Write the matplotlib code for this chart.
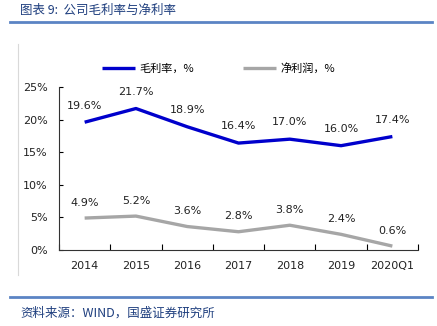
import numpy as np
import matplotlib.pyplot as plt
from matplotlib.lines import Line2D

plt.rcParams['font.family'] = ['Noto Sans CJK SC', 'DejaVu Sans']

years = ['2014', '2015', '2016', '2017', '2018', '2019', '2020Q1']
gross_margin = [19.6, 21.7, 18.9, 16.4, 17.0, 16.0, 17.4]
net_margin = [4.9, 5.2, 3.6, 2.8, 3.8, 2.4, 0.6]
yticks = [0, 5, 10, 15, 20, 25]

blue = '#0000CC'
grey = '#A6A6A6'
frame = '#5B84C4'
W, H = 437, 326

fig = plt.figure(figsize=(W / 100, H / 100), dpi=100)

# header / footer rules
fig.add_artist(Line2D([10 / W, 432 / W], [1 - 22 / H, 1 - 22 / H], color=frame, lw=2))
fig.add_artist(Line2D([10 / W, 432 / W], [1 - 297 / H, 1 - 297 / H], color=frame, lw=2))
fig.add_artist(Line2D([18 / W, 18 / W], [1 - 44 / H, 1 - 275 / H], color='#D9D9D9', lw=0.8))

fig.text(20 / W, 1 - 10 / H, '图表 9:  公司毛利率与净利率', fontsize=9, style='italic',
         color='#1F3F7F', va='center', ha='left')
fig.text(20 / W, 1 - 313 / H, '资料来源：WIND，国盛证券研究所', fontsize=9, style='italic',
         color='#1F3F7F', va='center', ha='left')

ax = fig.add_axes([59 / W, 1 - 250 / H, 359 / W, 163 / H])
x = np.arange(len(years))
ax.plot(x, gross_margin, color=blue, lw=2.4, solid_capstyle='butt', label='毛利率，%')
ax.plot(x, net_margin, color=grey, lw=2.4, solid_capstyle='butt', label='净利润，%')

for xi, v in zip(x, gross_margin):
    ax.annotate(f'{v:.1f}%', (xi, v), xytext=(0, 12), textcoords='offset points',
                ha='center', va='center', fontsize=8, family='DejaVu Sans', color='#222222')
for xi, v in zip(x, net_margin):
    ax.annotate(f'{v:.1f}%', (xi, v), xytext=(0, 11), textcoords='offset points',
                ha='center', va='center', fontsize=8, family='DejaVu Sans', color='#222222')

ax.set_xlim(-0.5, len(years) - 0.5)
ax.set_ylim(0, 25)
ax.set_yticks(yticks)
ax.set_yticklabels([f'{t}%' for t in yticks], family='DejaVu Sans', fontsize=8, color='#222222')
ax.set_xticks(x)
ax.set_xticklabels(years, family='DejaVu Sans', fontsize=8, color='#222222')
ax.set_xticks(np.arange(len(years) + 1) - 0.5, minor=True)
ax.tick_params(axis='x', which='major', length=0, pad=8)
ax.tick_params(axis='x', which='minor', direction='in', length=4, width=0.8)
ax.tick_params(axis='y', direction='in', length=3, width=0.8, pad=8)
for s in ['top', 'right']:
    ax.spines[s].set_visible(False)
for s in ['left', 'bottom']:
    ax.spines[s].set_linewidth(0.8)
    ax.spines[s].set_color('#333333')

ax.legend(loc='lower left', bbox_to_anchor=(96 / W, 1 - 79 / H), bbox_transform=fig.transFigure,
          ncol=2, frameon=False, fontsize=8, handlelength=3.0, handletextpad=0.4,
          columnspacing=4.4, borderpad=0)

fig.savefig('out.png', dpi=100)
